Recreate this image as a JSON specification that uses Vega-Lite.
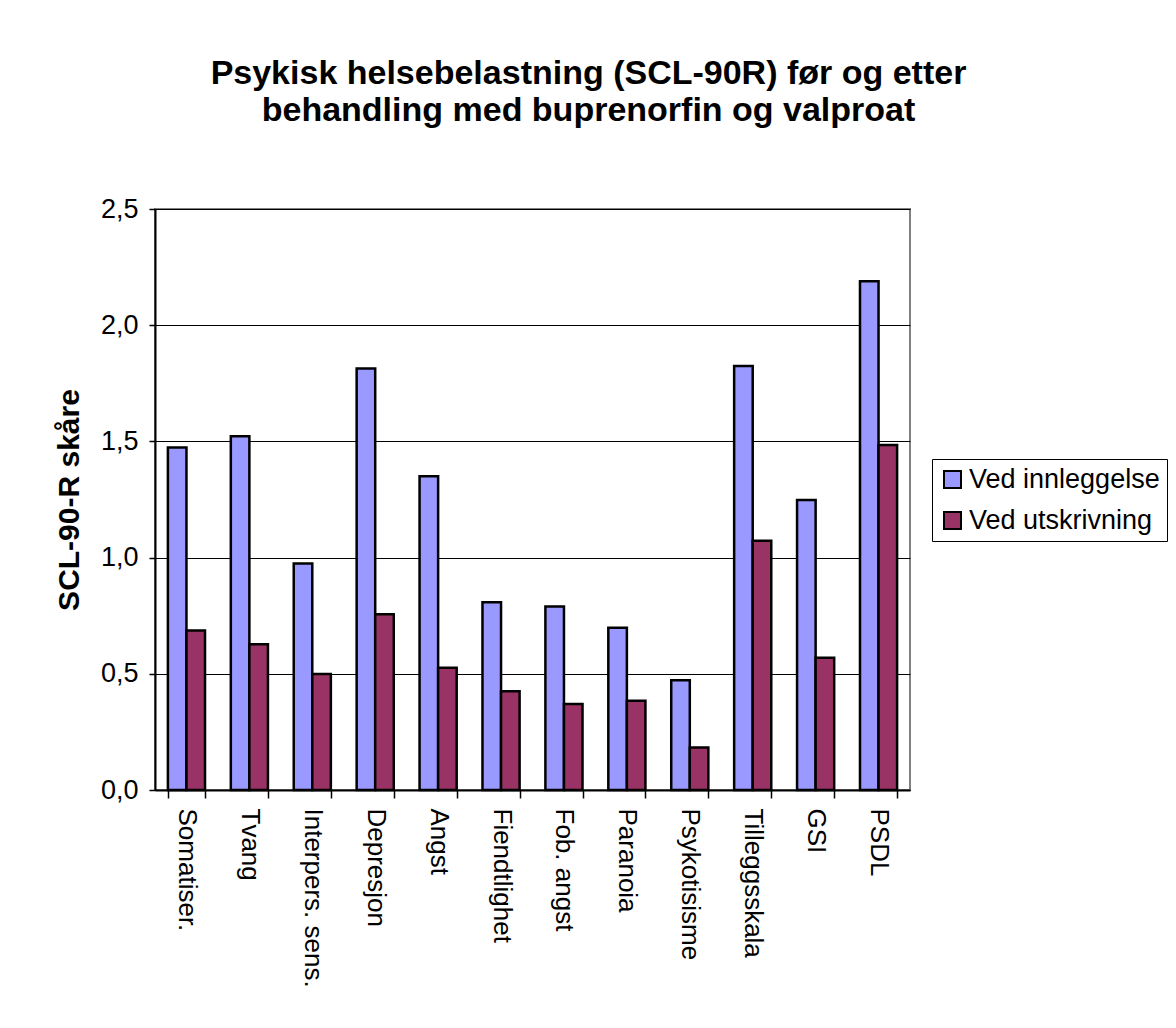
{
  "$schema": "https://vega.github.io/schema/vega-lite/v6.json",
  "width": 755,
  "height": 581,
  "autosize": {"type": "none"},
  "padding": {"left": 155, "top": 209, "right": 266, "bottom": 238},
  "background": "white",
  "title": {
    "text": ["Psykisk helsebelastning (SCL-90R) før og etter", "behandling med buprenorfin og valproat"],
    "anchor": "middle",
    "frame": "group",
    "dx": 56,
    "offset": 67,
    "font": "Liberation Sans",
    "fontSize": 34,
    "fontWeight": "bold",
    "color": "black",
    "lineHeight": 37
  },
  "data": {
    "values": [
      {"skala": "Somatiser.", "tidspunkt": "Ved innleggelse", "skaare": 1.474},
      {"skala": "Somatiser.", "tidspunkt": "Ved utskrivning", "skaare": 0.686},
      {"skala": "Tvang", "tidspunkt": "Ved innleggelse", "skaare": 1.522},
      {"skala": "Tvang", "tidspunkt": "Ved utskrivning", "skaare": 0.627},
      {"skala": "Interpers. sens.", "tidspunkt": "Ved innleggelse", "skaare": 0.975},
      {"skala": "Interpers. sens.", "tidspunkt": "Ved utskrivning", "skaare": 0.499},
      {"skala": "Depresjon", "tidspunkt": "Ved innleggelse", "skaare": 1.814},
      {"skala": "Depresjon", "tidspunkt": "Ved utskrivning", "skaare": 0.756},
      {"skala": "Angst", "tidspunkt": "Ved innleggelse", "skaare": 1.35},
      {"skala": "Angst", "tidspunkt": "Ved utskrivning", "skaare": 0.526},
      {"skala": "Fiendtlighet", "tidspunkt": "Ved innleggelse", "skaare": 0.808},
      {"skala": "Fiendtlighet", "tidspunkt": "Ved utskrivning", "skaare": 0.425},
      {"skala": "Fob. angst", "tidspunkt": "Ved innleggelse", "skaare": 0.79},
      {"skala": "Fob. angst", "tidspunkt": "Ved utskrivning", "skaare": 0.37},
      {"skala": "Paranoia", "tidspunkt": "Ved innleggelse", "skaare": 0.698},
      {"skala": "Paranoia", "tidspunkt": "Ved utskrivning", "skaare": 0.384},
      {"skala": "Psykotisisme", "tidspunkt": "Ved innleggelse", "skaare": 0.472},
      {"skala": "Psykotisisme", "tidspunkt": "Ved utskrivning", "skaare": 0.183},
      {"skala": "Tilleggsskala", "tidspunkt": "Ved innleggelse", "skaare": 1.824},
      {"skala": "Tilleggsskala", "tidspunkt": "Ved utskrivning", "skaare": 1.072},
      {"skala": "GSI", "tidspunkt": "Ved innleggelse", "skaare": 1.248},
      {"skala": "GSI", "tidspunkt": "Ved utskrivning", "skaare": 0.569},
      {"skala": "PSDL", "tidspunkt": "Ved innleggelse", "skaare": 2.189},
      {"skala": "PSDL", "tidspunkt": "Ved utskrivning", "skaare": 1.484}
    ]
  },
  "mark": {"type": "bar", "stroke": "black", "strokeWidth": 2.5},
  "encoding": {
    "x": {
      "field": "skala",
      "type": "nominal",
      "sort": null,
      "scale": {"paddingInner": 0.41, "paddingOuter": 0.205},
      "axis": {
        "title": null,
        "labelAngle": 90,
        "labelAlign": "left",
        "labelBaseline": "middle",
        "labelFont": "Liberation Sans",
        "labelFontSize": 26,
        "labelColor": "black",
        "labelPadding": 10,
        "labelLimit": 400,
        "tickBand": "extent",
        "tickSize": 8,
        "tickColor": "black",
        "tickWidth": 1.5,
        "domainColor": "black",
        "domainWidth": 2,
        "grid": false
      }
    },
    "xOffset": {
      "field": "tidspunkt",
      "type": "nominal",
      "sort": ["Ved innleggelse", "Ved utskrivning"],
      "scale": {"paddingInner": 0, "paddingOuter": 0}
    },
    "y": {
      "field": "skaare",
      "type": "quantitative",
      "scale": {"domain": [0, 2.5], "nice": false},
      "axis": {
        "title": "SCL-90-R skåre",
        "titleFont": "Liberation Sans",
        "titleFontSize": 30,
        "titleFontWeight": "bold",
        "titleColor": "black",
        "titlePadding": 16,
        "values": [0, 0.5, 1, 1.5, 2, 2.5],
        "labelExpr": "replace(format(datum.value, '.1f'), '.', ',')",
        "labelFont": "Liberation Sans",
        "labelFontSize": 27,
        "labelColor": "black",
        "labelPadding": 11,
        "tickSize": 6,
        "tickColor": "black",
        "tickWidth": 1.5,
        "domainColor": "black",
        "domainWidth": 2,
        "grid": true,
        "gridColor": "black",
        "gridWidth": 1
      }
    },
    "color": {
      "field": "tidspunkt",
      "type": "nominal",
      "sort": ["Ved innleggelse", "Ved utskrivning"],
      "scale": {"domain": ["Ved innleggelse", "Ved utskrivning"], "range": ["#9999FF", "#993366"]},
      "legend": {
        "title": null,
        "orient": "none",
        "legendX": 777,
        "legendY": 250,
        "strokeColor": "black",
        "padding": 7,
        "labelFont": "Liberation Sans",
        "labelFontSize": 27,
        "labelColor": "black",
        "labelOffset": 3,
        "labelLimit": 400,
        "symbolType": "square",
        "symbolSize": 289,
        "symbolStrokeColor": "black",
        "symbolStrokeWidth": 2,
        "symbolOpacity": 1,
        "rowPadding": 13
      }
    }
  },
  "config": {
    "view": {"stroke": "#808080", "strokeWidth": 2}
  }
}
